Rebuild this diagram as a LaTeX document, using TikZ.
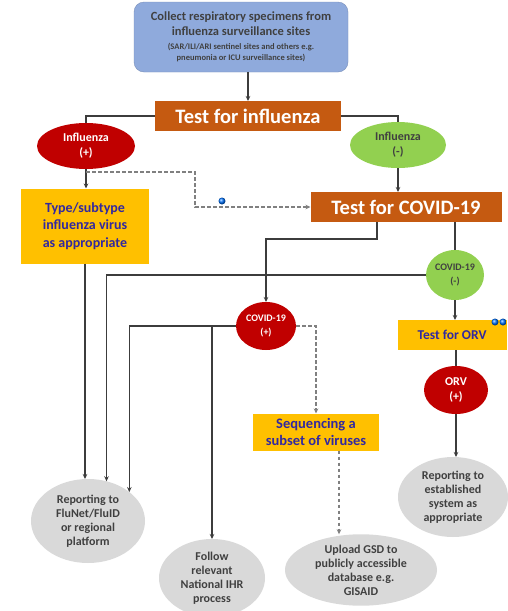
\documentclass[tikz,border=0pt]{standalone}
\usepackage{fontspec}
\setmainfont{Carlito}
\usetikzlibrary{shapes.geometric,arrows.meta}

\definecolor{boxblue}{RGB}{143,170,220}
\definecolor{testorange}{RGB}{197,90,17}
\definecolor{posred}{RGB}{192,0,0}
\definecolor{neggreen}{RGB}{146,208,80}
\definecolor{stepyellow}{RGB}{255,192,0}
\definecolor{endgray}{RGB}{217,217,217}
\definecolor{stepink}{RGB}{50,40,160}
\definecolor{darkink}{RGB}{64,64,64}
\definecolor{linegray}{RGB}{60,60,60}
\definecolor{dashgray}{RGB}{128,128,128}

\tikzset{
  every node/.style={inner sep=0pt, outer sep=0pt, align=center},
  sz/.style 2 args={font={\bfseries\fontsize{#1}{#2}\selectfont}},
  startbox/.style={rectangle, rounded corners=10pt, fill=boxblue, draw=boxblue!85!black, line width=0.4pt, text=darkink},
  testbox/.style={rectangle, fill=testorange, text=white, sz={20.5}{24}},
  stepbox/.style={rectangle, fill=stepyellow, text=stepink},
  posoval/.style={ellipse, fill=posred, text=white},
  negoval/.style={ellipse, fill=neggreen, text=darkink},
  endoval/.style={ellipse, fill=endgray, text=darkink, sz={12}{14}},
  link/.style={draw=linegray, line width=1.1pt},
  arr/.style={link, -{Stealth[length=5pt,width=4.5pt]}},
  dsh/.style={draw=dashgray, line width=1.1pt, dash pattern=on 3.5pt off 2.5pt, -{Stealth[length=5pt,width=4.5pt]}},
  note/.style={circle, minimum size=7pt, ball color=blue!55!cyan}
}

\begin{document}
\begin{tikzpicture}[x=1pt, y=-1pt]
\useasboundingbox[fill=white] (0,0) rectangle (508,611);

% process steps
\node[startbox, minimum width=214pt, minimum height=70pt, sz={12.5}{15}] (start) at (241,37)
  {Collect respiratory specimens from\\
   influenza surveillance sites\\[-1pt]
   {\fontsize{8.5}{9.5}\selectfont (SAR/ILI/ARI sentinel sites and others e.g.}\\[-4pt]
   {\fontsize{8.5}{9.5}\selectfont pneumonia or ICU surveillance sites)}};

\node[testbox, minimum width=186pt, minimum height=30pt] (tinf) at (248,116)
  {Test for influenza};

\node[posoval, minimum width=98pt, minimum height=46pt, sz={12}{15}] (infp) at (86,146)
  {Influenza\\(+)};
\node[negoval, minimum width=96pt, minimum height=46pt, sz={12}{15}] (infn) at (398,145)
  {Influenza\\(-)};

\node[testbox, minimum width=191pt, minimum height=30pt] (tcov) at (406,207)
  {Test for COVID-19};

\node[stepbox, minimum width=128pt, minimum height=75pt, sz={14}{17.5}] (typ) at (85,226)
  {Type/subtype\\influenza virus\\as appropriate};

\node[negoval, minimum width=58pt, minimum height=50pt, sz={10}{14}] (cneg) at (455,275)
  {COVID-19\\(-)};
\node[posoval, minimum width=60pt, minimum height=48pt, sz={10}{14}] (cpos) at (266,326)
  {COVID-19\\(+)};

\node[stepbox, minimum width=109pt, minimum height=30pt, sz={13.5}{16}] (torv) at (452,335)
  {Test for ORV};
\node[posoval, minimum width=64pt, minimum height=48pt, sz={12}{15}] (orvp) at (456,390)
  {ORV\\(+)};

\node[stepbox, minimum width=126pt, minimum height=37pt, sz={14.5}{17}] (seq) at (316,432)
  {Sequencing a\\subset of viruses};

% outcomes
\node[endoval, minimum width=114pt, minimum height=84pt] (rep1) at (88,521)
  {Reporting to\\FluNet/FluID\\or regional\\platform};
\node[endoval, minimum width=106pt, minimum height=78pt] (fol) at (212,578)
  {Follow\\relevant\\National IHR\\process};
\node[endoval, minimum width=152pt, minimum height=66pt] (upl) at (361,570)
  {Upload GSD to\\publicly accessible\\database e.g.\\GISAID};
\node[endoval, minimum width=110pt, minimum height=80pt] (rep2) at (453,497)
  {Reporting to\\established\\system as\\appropriate};

% bend points
\coordinate (jA) at (195,172);
\coordinate (jC) at (377,239);

% connectors
\draw[arr] (tinf.north |- start.south) -- (tinf.north);
\draw[link] (tinf.west) -| (infp.north);
\draw[link] (tinf.east) -| (infn.north);
\draw[arr] (infn.south) -- (infn.south |- tcov.north);
\draw[arr] (infp.south) -- (infp.south |- typ.north);
\draw[dsh] (infp.south |- jA) -- (jA) |- (tcov.west);
\draw[arr] (typ.south) -- (typ.south |- rep1.north);

\draw[arr] (jC |- tcov.south) -- (jC) -| (cpos.north);
\draw[link] (tcov.south -| cneg.north) -- (cneg.north);
\draw[arr] (cneg.west) -| (rep1.65.7);
\draw[arr] (cpos.west) -| (rep1.35.4);
\draw[arr] (cpos.west -| fol.north) -- (fol.north);
\draw[dsh] (cpos.east) -| (seq.north);
\draw[dsh] ([xshift=23pt]seq.south) -- ([xshift=23pt]seq.south |- upl.north);

\draw[arr] (cneg.south) -- (cneg.south |- torv.north);
\draw[link] (torv.south -| orvp.north) -- (orvp.north);
\draw[arr] (orvp.south) -- (orvp.south |- rep2.north);

% comment markers
\node[note] (n1) at (222,201) {};
\node[note] (n2) at (495,322) {};
\node[note] (n3) at (503,322) {};
\end{tikzpicture}
\end{document}
